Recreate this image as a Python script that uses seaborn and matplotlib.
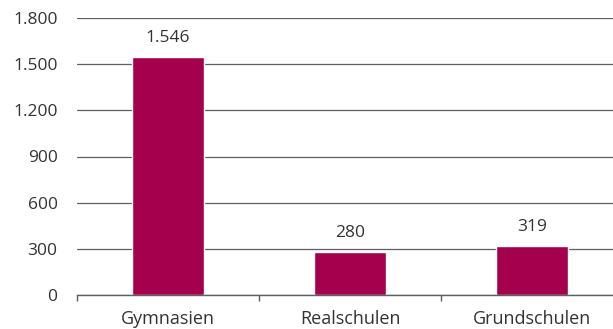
import matplotlib
matplotlib.use("Agg")
import matplotlib.pyplot as plt
import seaborn as sns
import pandas as pd
from matplotlib.ticker import FuncFormatter, FixedLocator

categories = ["Gymnasien", "Realschulen", "Grundschulen"]
values = [1546, 280, 319]
y_ticks = [0, 300, 600, 900, 1200, 1500, 1800]

sns.set_style("white")
plt.rcParams["font.family"] = ["Open Sans", "DejaVu Sans"]

df = pd.DataFrame({"Schulart": categories, "Anzahl": values})

W, H = 613, 329
fig = plt.figure(figsize=(W / 100, H / 100), dpi=100)
ax = fig.add_axes([77 / W, (H - 295) / H, 546 / W, 277 / H])

bar_color = "#A5004E"
sns.barplot(data=df, x="Schulart", y="Anzahl", color=bar_color, width=0.4,
            saturation=1, ax=ax, zorder=3)

ax.set_xlim(-0.5, 2.5)
ax.set_ylim(0, 1800)

def de_fmt(v, _pos=None):
    return f"{int(round(v)):,}".replace(",", ".")

ax.yaxis.set_major_locator(FixedLocator(y_ticks))
ax.yaxis.set_major_formatter(FuncFormatter(de_fmt))
ax.grid(axis="y", color="#5f5f5f", linewidth=0.9, zorder=0)
ax.grid(axis="x", visible=False)

for s in ["left", "right", "top"]:
    ax.spines[s].set_visible(False)
ax.spines["bottom"].set_color("#5f5f5f")
ax.spines["bottom"].set_linewidth(1.0)
ax.spines["bottom"].set_zorder(4)

ax.tick_params(axis="y", length=0, pad=14, labelsize=12.5, labelcolor="#333333")
ax.tick_params(axis="x", which="major", bottom=True, length=0, pad=11,
               labelsize=13, labelcolor="#333333")
ax.set_xticks([-0.5, 0.5, 1.5, 2.5], minor=True)
ax.tick_params(axis="x", which="minor", bottom=True, length=4, width=1,
               color="#5f5f5f", direction="out")

ax.set_xlabel("")
ax.set_ylabel("")

for i, v in enumerate(values):
    ax.annotate(de_fmt(v), (i, v), xytext=(0, 8), textcoords="offset points",
                ha="center", va="bottom", fontsize=12.5, color="#333333")

fig.savefig("out.png", dpi=100)
